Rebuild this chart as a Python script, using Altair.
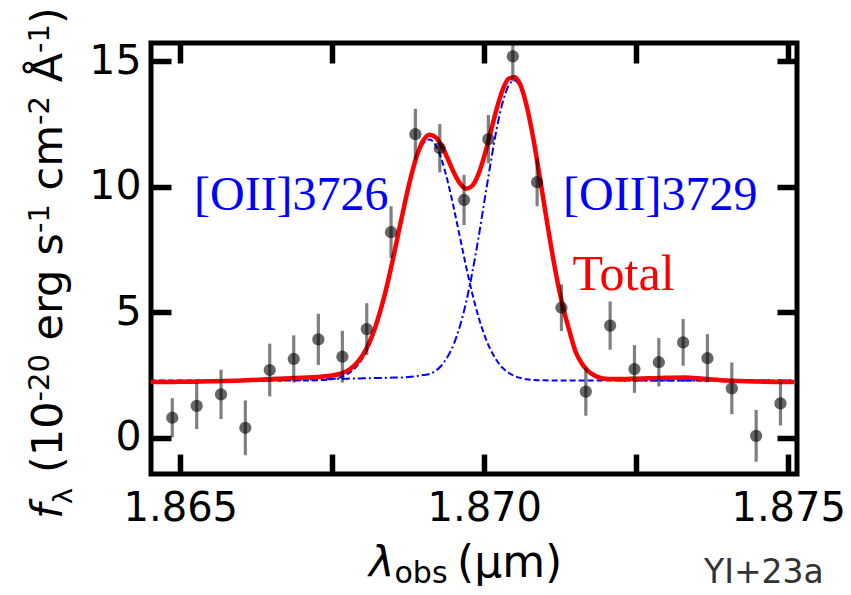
import altair as alt
import pandas as pd

# ---------------- data ----------------
wave_pts = [1.864868, 1.865270, 1.865670, 1.866070, 1.866471, 1.866866, 1.867271,
            1.867666, 1.868067, 1.868467, 1.868867, 1.869269, 1.869668, 1.870068,
            1.870470, 1.870870, 1.871270, 1.871671, 1.872071, 1.872471, 1.872872,
            1.873272, 1.873672, 1.874073, 1.874473, 1.874873]
flux_pts = [0.80, 1.27, 1.73, 0.40, 2.70, 3.14, 3.92, 3.23, 4.33, 8.19, 12.09, 11.53,
            9.47, 11.89, 15.19, 10.18, 5.18, 1.84, 4.47, 2.74, 3.01, 3.80, 3.17, 1.97,
            0.08, 1.37]
err_pts = [0.78, 0.92, 0.98, 1.09, 1.05, 0.94, 1.02, 1.03, 1.03, 1.03, 1.01, 0.96,
           1.00, 0.96, 1.00, 0.96, 0.93, 0.96, 0.96, 0.95, 0.96, 0.93, 0.96, 1.03,
           1.03, 0.88]

model_wave = [1.8645, 1.8650, 1.8655, 1.8660, 1.8665, 1.8670, 1.8673, 1.8675, 1.8676, 1.8677, 1.8678, 1.8679,
              1.8680, 1.8681, 1.8682, 1.8683, 1.8684, 1.8685, 1.8686, 1.8687, 1.8688, 1.8689,
              1.8690, 1.8691, 1.8692, 1.8693, 1.8694, 1.8695, 1.8696, 1.8697, 1.8698, 1.8699,
              1.8700, 1.8701, 1.8702, 1.8703, 1.8704, 1.8705, 1.8706, 1.8707, 1.8708, 1.8709,
              1.8710, 1.8711, 1.8712, 1.8713, 1.8714, 1.8715, 1.8716, 1.8717, 1.8718, 1.8719,
              1.8720, 1.8721, 1.8722, 1.8723,
              1.8724, 1.8727, 1.8730, 1.8733, 1.8736, 1.8740, 1.8745, 1.8751]
model_total = [2.22, 2.23, 2.25, 2.28, 2.34, 2.39, 2.43, 2.48, 2.53, 2.61, 2.75, 2.97,
               3.29, 3.74, 4.35, 5.13, 6.06, 7.14, 8.29, 9.42, 10.45, 11.29,
               11.85, 12.07, 11.97, 11.62, 11.11, 10.56, 10.13, 9.92, 10.03, 10.47,
               11.21, 12.12, 13.06, 13.84, 14.30, 14.36, 14.02, 13.19, 12.01, 10.59,
               9.08, 7.61, 6.28, 5.16, 4.27, 3.45, 2.98, 2.68, 2.50, 2.40,
               2.35, 2.34, 2.34, 2.34,
               2.35, 2.37, 2.39, 2.40, 2.35, 2.28, 2.24, 2.22]
model_3726 = [2.28, 2.28, 2.28, 2.28, 2.28, 2.28, 2.30, 2.34, 2.39, 2.48, 2.62, 2.85,
              3.17, 3.63, 4.25, 5.04, 5.98, 7.07, 8.22, 9.36, 10.39, 11.21,
              11.73, 11.88, 11.65, 11.07, 10.20, 9.14, 7.99, 6.84, 5.78, 4.86,
              4.11, 3.53, 3.10, 2.79, 2.59, 2.46, 2.38, 2.33, 2.31, 2.29,
              2.29, 2.28, 2.28, 2.28, 2.28, 2.28, 2.28, 2.28, 2.28, 2.28,
              2.28, 2.28, 2.28, 2.28,
              2.28, 2.28, 2.28, 2.28, 2.28, 2.28, 2.28, 2.28]
model_3729 = [2.25, 2.25, 2.25, 2.26, 2.28, 2.31, 2.33, 2.34, 2.35, 2.35, 2.36, 2.36,
              2.37, 2.37, 2.38, 2.38, 2.39, 2.40, 2.40, 2.41, 2.43, 2.46,
              2.50, 2.54, 2.67, 2.89, 3.24, 3.74, 4.45, 5.38, 6.54, 7.89,
              9.38, 10.87, 12.24, 13.33, 14.02, 14.23, 13.92, 13.14, 11.98, 10.58,
              9.08, 7.61, 6.28, 5.16, 4.26, 3.45, 2.96, 2.65, 2.46, 2.36,
              2.31, 2.30, 2.29, 2.28,
              2.28, 2.28, 2.28, 2.28, 2.28, 2.28, 2.28, 2.28]

x_ticks = [1.865, 1.8675, 1.870, 1.8725, 1.875]
y_ticks = [0, 5, 10, 15]
x_domain = [1.864518, 1.875145]
y_domain = [-1.44, 15.72]

# ---------------- frames ----------------
pts = pd.DataFrame({"w": wave_pts, "f": flux_pts, "e": err_pts})
mdl = pd.DataFrame({"w": model_wave, "tot": model_total,
                    "l3726": model_3726, "l3729": model_3729})
one = pd.DataFrame({"a": [0]})

xs = alt.Scale(domain=x_domain, nice=False, zero=False)
ys = alt.Scale(domain=y_domain, nice=False, zero=False)

TW = 5.5
ax_bottom = alt.Axis(orient="bottom", values=x_ticks, offset=-20, tickSize=20, tickWidth=TW,
                     tickColor="black", domain=False, grid=False, labelFont="DejaVu Sans",
                     labelFontSize=40, labelColor="black", labelPadding=14, labelOverlap=False,
                     labelFlush=False, title=None,
                     labelExpr="round(datum.value*1000) % 5 == 0 ? format(datum.value, '.3f') : ''")
ax_left = alt.Axis(orient="left", values=y_ticks, offset=-20, tickSize=20, tickWidth=TW,
                   tickColor="black", domain=False, grid=False, labelFont="DejaVu Sans",
                   labelFontSize=41, labelColor="black", labelPadding=10, format="d",
                   labelOverlap=False, labelFlush=False, title=None)
ax_top = alt.Axis(orient="top", values=x_ticks, offset=-20, tickSize=20, tickWidth=TW,
                  tickColor="black", domain=False, grid=False, labels=False, title=None)
ax_right = alt.Axis(orient="right", values=y_ticks, offset=-20, tickSize=20, tickWidth=TW,
                    tickColor="black", domain=False, grid=False, labels=False, title=None)

base_m = alt.Chart(mdl)
line_3726 = base_m.mark_line(color="#0000ff", strokeWidth=2, strokeDash=[6, 3],
                             interpolate="monotone", clip=True).encode(
    x=alt.X("w:Q", scale=xs, axis=ax_top), y=alt.Y("l3726:Q", scale=ys, axis=ax_right))
line_3729 = base_m.mark_line(color="#0000ff", strokeWidth=2, strokeDash=[8, 3, 2, 3],
                             interpolate="monotone", clip=True).encode(
    x=alt.X("w:Q", scale=xs, axis=None), y=alt.Y("l3729:Q", scale=ys, axis=None))
line_tot = base_m.mark_line(color="#ff0000", strokeWidth=4.5,
                            interpolate="monotone", clip=True).encode(
    x=alt.X("w:Q", scale=xs, axis=None), y=alt.Y("tot:Q", scale=ys, axis=None))

base_p = alt.Chart(pts).transform_calculate(lo="datum.f - datum.e", hi="datum.f + datum.e")
bars = base_p.mark_rule(color="black", opacity=0.5, strokeWidth=3.2, clip=True).encode(
    x=alt.X("w:Q", scale=xs, axis=None), y=alt.Y("lo:Q", scale=ys, axis=None), y2="hi:Q")
dots = base_p.mark_circle(color="black", opacity=0.6, size=150).encode(
    x=alt.X("w:Q", scale=xs, axis=ax_bottom), y=alt.Y("f:Q", scale=ys, axis=ax_left))


def txt(s, x, y, size, color="black", font="DejaVu Sans", angle=0, style="normal"):
    return alt.Chart(one).mark_text(text=s, font=font, fontSize=size, color=color,
                                    angle=angle, align="left", baseline="alphabetic",
                                    fontStyle=style).encode(x=alt.value(x), y=alt.value(y))


labels = [
    txt("[OII]3726", 43, 167, 48, "#0000ff", "Liberation Serif"),
    txt("[OII]3729", 412, 167, 48, "#0000ff", "Liberation Serif"),
    txt("Total", 421.5, 247, 50, "#ff0000", "Liberation Serif"),
    # x-axis title
    txt("λ", 218, 534, 43, style="italic"),
    txt("obs", 243.5, 540, 30),
    txt("(μm)", 306, 534, 44),
    txt("YI+23a", 553, 540, 33, "#333333"),
    # y-axis title (rotated)
    txt("f", -89, 476, 43, angle=270, style="italic"),
    txt("λ", -79, 461, 27, angle=270),
    txt("(10", -89, 430, 43, angle=270),
    txt("-20", -102, 358.5, 29, angle=270),
    txt("erg", -89, 297.5, 43, angle=270),
    txt("s", -89, 212.4, 43, angle=270),
    txt("-1", -102, 190, 29, angle=270),
    txt("cm", -89, 147.4, 43, angle=270),
    txt("-2", -102, 81.9, 29, angle=270),
    txt("Å", -89, 39.3, 43, angle=270),
    txt("-1", -102, 9.9, 29, angle=270),
    txt(")", -89, -19, 43, angle=270),
]

chart = alt.layer(line_3726, line_3729, line_tot, bars, dots, *labels).resolve_axis(
    x="independent", y="independent"
).properties(
    width=646, height=431,
    padding={"left": 143, "top": 35, "right": 46, "bottom": 113},
    autosize=alt.AutoSizeParams(type="none"),
    background="white",
).configure_view(stroke="black", strokeWidth=5)

chart.save("out.html", embed_options={"renderer": "svg", "actions": False})
